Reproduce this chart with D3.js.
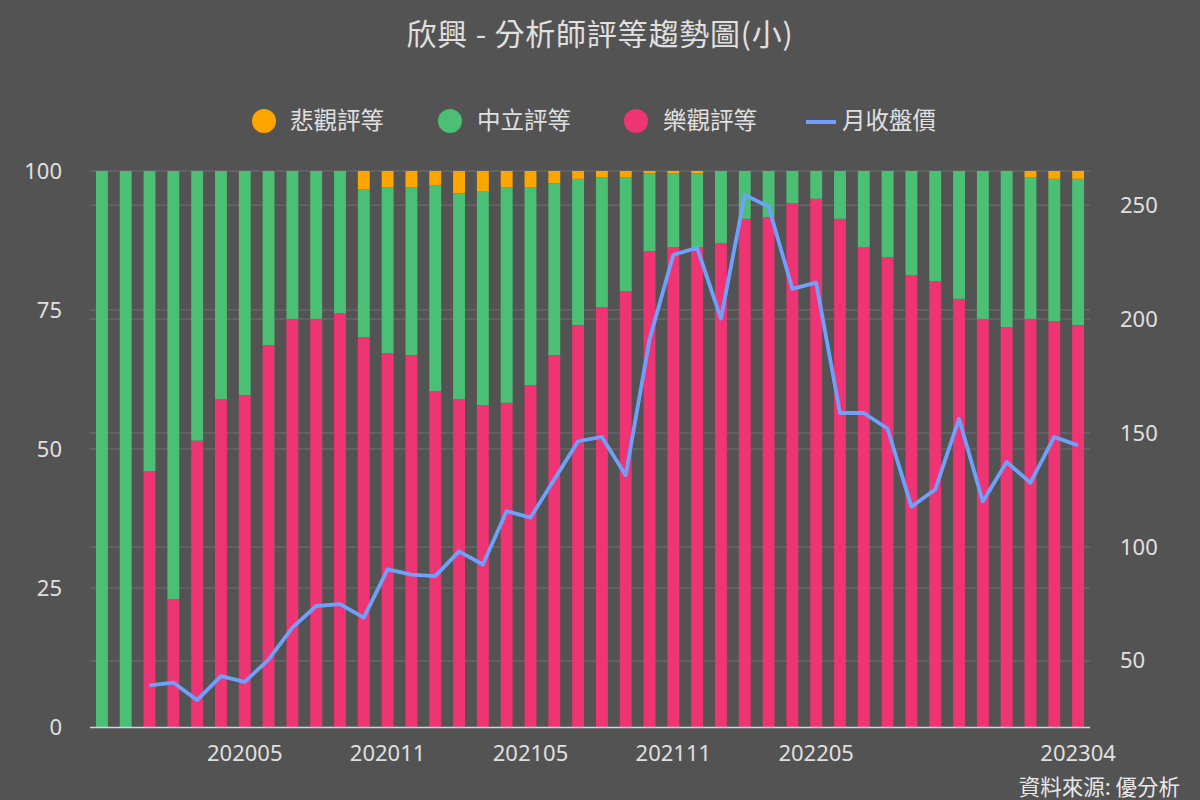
<!DOCTYPE html>
<html>
<head>
<meta charset="utf-8">
<script src="https://cdn.jsdelivr.net/npm/d3@7"></script>
<style>
  body { margin: 0; background: #535353; }
  svg { display: block; font-family: "Noto Sans CJK TC", "Noto Sans", sans-serif; }
</style>
</head>
<body>
<svg id="chart" width="1200" height="800"></svg>
<script>
const months = ["201911","201912","202001","202002","202003","202004","202005","202006","202007","202008","202009","202010",
  "202011","202012","202101","202102","202103","202104","202105","202106","202107","202108","202109","202110",
  "202111","202112","202201","202202","202203","202204","202205","202206","202207","202208","202209","202210",
  "202211","202212","202301","202302","202303","202304"];

// percent of analysts per rating
const bullish = [0,0,46.0,23.0,51.5,59.0,59.7,68.7,73.4,73.4,74.4,70.1,
  67.2,66.9,60.4,59.0,57.9,58.3,61.5,66.9,72.3,75.5,78.4,85.6,
  86.3,86.3,87.0,91.4,91.7,94.2,95.0,91.4,86.3,84.5,81.3,80.2,
  77.0,73.4,71.9,73.4,73.0,72.3];
const neutral = [100,100,54.0,77.0,48.5,41.0,40.3,31.3,26.6,26.6,25.6,26.6,
  29.9,30.2,37.1,37.0,38.5,38.8,35.6,30.9,26.3,23.4,20.5,14.0,
  13.3,13.3,13.0,8.6,8.3,5.8,5.0,8.6,13.7,15.5,18.7,19.8,
  23.0,26.6,28.1,25.5,25.6,26.3];
const bearish = [0,0,0,0,0,0,0,0,0,0,0,3.3,
  2.9,2.9,2.5,4.0,3.6,2.9,2.9,2.2,1.4,1.1,1.1,0.4,
  0.4,0.4,0,0,0,0,0,0,0,0,0,0,
  0,0,0,1.1,1.4,1.4];
const price = [null,null,39.3,40.5,32.8,43.3,40.8,50.6,64.6,74.1,74.9,69.0,
  90.2,87.9,87.2,98.1,92.3,115.7,112.9,129.6,146.4,148.3,131.5,191.0,
  228.2,231.3,200.2,254.5,249.4,213.3,216.0,158.8,158.8,151.9,117.7,125.2,
  156.3,120.0,137.3,128.2,148.3,144.6];

const xTicks = ["202005","202011","202105","202111","202205","202304"];
const leftTicks = [0,25,50,75,100];
const rightTicks = [50,100,150,200,250];

const seriesNames = ["悲觀評等","中立評等","樂觀評等","月收盤價"];
const colors = { bearish: "#ffa500", neutral: "#4bbf73", bullish: "#ee3473", price: "#6fa0fb" };

const svg = d3.select("#chart");
const W = 1200, H = 800;
const margin = { left: 90, right: 110, top: 171, bottom: 73 };
const plotW = W - margin.left - margin.right;
const plotBottom = H - margin.bottom;

svg.append("rect").attr("width", W).attr("height", H).attr("fill", "#535353");

const x = d3.scaleBand().domain(months).range([margin.left, margin.left + plotW]).paddingInner(0.5).paddingOuter(0.25);
const yL = d3.scaleLinear().domain([0, 100]).range([plotBottom, margin.top]);
const yR = d3.scaleLinear().domain([21, 265]).range([plotBottom, margin.top]);

// grid
const grid = svg.append("g");
grid.selectAll(".gl").data(leftTicks.filter(d => d > 0)).join("line")
  .attr("x1", margin.left).attr("x2", margin.left + plotW)
  .attr("y1", d => yL(d)).attr("y2", d => yL(d))
  .attr("stroke", "#666666").attr("stroke-width", 1.5);
grid.selectAll(".gr").data(rightTicks).join("line")
  .attr("x1", margin.left).attr("x2", margin.left + plotW)
  .attr("y1", d => yR(d)).attr("y2", d => yR(d))
  .attr("stroke", "#666666").attr("stroke-width", 1.5);

// stacked bars
const table = months.map((m, i) => ({ month: m, bullish: bullish[i], neutral: neutral[i], bearish: bearish[i] }));
const stack = d3.stack().keys(["bullish", "neutral", "bearish"])(table);

svg.append("g").selectAll("g").data(stack).join("g")
  .attr("fill", d => colors[d.key])
  .selectAll("rect").data(d => d).join("rect")
  .attr("x", d => x(d.data.month))
  .attr("width", x.bandwidth())
  .attr("y", d => yL(d[1]))
  .attr("height", d => yL(d[0]) - yL(d[1]));

// x axis line
svg.append("line")
  .attr("x1", margin.left).attr("x2", margin.left + plotW)
  .attr("y1", plotBottom + 0.5).attr("y2", plotBottom + 0.5)
  .attr("stroke", "#ccd6eb").attr("stroke-width", 1.5);

// price line
const line = d3.line()
  .defined(d => d != null)
  .x((d, i) => x(months[i]) + x.bandwidth() / 2)
  .y(d => yR(d));
svg.append("path").datum(price)
  .attr("fill", "none").attr("stroke", colors.price).attr("stroke-width", 3.8)
  .attr("stroke-linejoin", "round")
  .attr("d", line);

// axes labels
const axisL = svg.append("g").attr("transform", `translate(${margin.left},0)`)
  .call(d3.axisLeft(yL).tickValues(leftTicks).tickSize(0).tickPadding(28));
const axisR = svg.append("g").attr("transform", `translate(${margin.left + plotW},0)`)
  .call(d3.axisRight(yR).tickValues(rightTicks).tickSize(0).tickPadding(30));
const axisB = svg.append("g").attr("transform", `translate(0,${plotBottom})`)
  .call(d3.axisBottom(x).tickValues(xTicks).tickSize(0).tickPadding(18));
[axisL, axisR, axisB].forEach(a => {
  a.select(".domain").remove();
  a.selectAll("text").attr("fill", "#e0e0e0").attr("font-size", 22)
    .attr("font-family", "'Noto Sans', 'Noto Sans CJK TC', sans-serif");
});

// title
svg.append("text").attr("x", W / 2).attr("y", 45).attr("text-anchor", "middle")
  .attr("fill", "#e0e0e0").attr("font-size", 30).attr("letter-spacing", 0.8)
  .text("欣興 - 分析師評等趨勢圖(小)");

// legend
const legend = [
  { name: seriesNames[0], color: colors.bearish, cx: 264, tx: 290, type: "dot" },
  { name: seriesNames[1], color: colors.neutral, cx: 450, tx: 477, type: "dot" },
  { name: seriesNames[2], color: colors.bullish, cx: 636, tx: 663, type: "dot" },
  { name: seriesNames[3], color: colors.price, cx: 822, tx: 842, type: "line" }
];
const lg = svg.append("g").selectAll("g").data(legend).join("g");
lg.filter(d => d.type === "dot").append("circle")
  .attr("cx", d => d.cx).attr("cy", 121).attr("r", 12).attr("fill", d => d.color);
lg.filter(d => d.type === "line").append("line")
  .attr("x1", d => d.cx - 16).attr("x2", d => d.cx + 14).attr("y1", 122).attr("y2", 122)
  .attr("stroke", d => d.color).attr("stroke-width", 4);
lg.append("text").attr("x", d => d.tx).attr("y", 129)
  .attr("fill", "#e0e0e0").attr("font-size", 23.5).text(d => d.name);

// source
svg.append("text").attr("x", 1180).attr("y", 795).attr("text-anchor", "end")
  .attr("fill", "#e8e8e8").attr("font-size", 21.5).text("資料來源: 優分析");
</script>
</body>
</html>
